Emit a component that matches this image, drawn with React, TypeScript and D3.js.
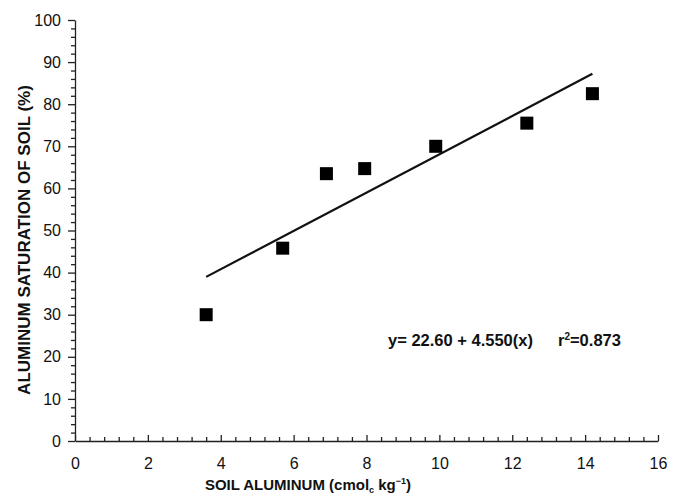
import { useEffect, useRef } from 'react';
import * as d3 from 'd3';

const soilAl = [3.6, 5.7, 6.9, 7.95, 9.9, 12.4, 14.2];
const alSaturation = [30, 45.8, 63.5, 64.7, 70, 75.5, 82.5];
const intercept = 22.6;
const slope = 4.55;
const xTicks = [0, 2, 4, 6, 8, 10, 12, 14, 16];
const yTicks = [0, 10, 20, 30, 40, 50, 60, 70, 80, 90, 100];

function App() {
  const svgRef = useRef<SVGSVGElement | null>(null);
  const width = 677;
  const height = 498;
  const margin = { top: 20, right: 19, bottom: 57, left: 75 };

  useEffect(() => {
    const svg = d3.select(svgRef.current);
    svg.selectAll('*').remove();

    const x = d3.scaleLinear().domain([0, 16]).range([margin.left, width - margin.right]);
    const y = d3.scaleLinear().domain([0, 100]).range([height - margin.bottom, margin.top]);
    const font = 'Liberation Sans, Arial, sans-serif';

    // x axis, ticks pointing up into the plot
    const xMinor = d3.range(0, 16.001, 0.4).filter((v) => Math.abs(v / 2 - Math.round(v / 2)) > 0.01);
    const gx = svg.append('g').attr('transform', `translate(0,${y(0)})`);
    gx.call(d3.axisBottom(x).tickValues(xMinor).tickSize(-4).tickFormat(() => ''));
    gx.call((g) => g.select('.domain').remove());
    const gxMaj = svg.append('g').attr('transform', `translate(0,${y(0)})`);
    gxMaj.call(d3.axisBottom(x).tickValues(xTicks).tickSize(-6).tickSizeOuter(0).tickFormat(d3.format('d')));
    gxMaj.selectAll('text').attr('y', 17).attr('font-size', 16).attr('font-family', font).attr('fill', '#111');

    // y axis, ticks pointing left
    const yMinor = d3.range(0, 100.001, 2).filter((v) => v % 10 !== 0);
    const gy = svg.append('g').attr('transform', `translate(${x(0)},0)`);
    gy.call(d3.axisLeft(y).tickValues(yMinor).tickSize(4).tickFormat(() => ''));
    gy.call((g) => g.select('.domain').remove());
    const gyMaj = svg.append('g').attr('transform', `translate(${x(0)},0)`);
    gyMaj.call(d3.axisLeft(y).tickValues(yTicks).tickSize(7).tickSizeOuter(0).tickFormat(d3.format('d')));
    gyMaj.selectAll('text').attr('x', -14).attr('font-size', 16).attr('font-family', font).attr('fill', '#111');

    svg.selectAll('.domain, .tick line').attr('stroke', '#222').attr('stroke-width', 1.3);

    // regression line
    const xr = d3.extent(soilAl) as [number, number];
    const line = d3
      .line<number>()
      .x((d) => x(d))
      .y((d) => y(intercept + slope * d));
    svg
      .append('path')
      .attr('d', line(xr))
      .attr('fill', 'none')
      .attr('stroke', '#111')
      .attr('stroke-width', 2.2);

    // points
    const s = 13;
    svg
      .append('g')
      .selectAll('rect')
      .data(soilAl)
      .join('rect')
      .attr('x', (d) => x(d) - s / 2)
      .attr('y', (_, i) => y(alSaturation[i]) - s / 2)
      .attr('width', s)
      .attr('height', s)
      .attr('fill', '#000');

    // equation
    const eq = svg
      .append('text')
      .attr('y', 346)
      .attr('font-family', font)
      .attr('font-weight', 'bold')
      .attr('font-size', 16.5)
      .attr('fill', '#111');
    eq.append('tspan').attr('x', 388).text('y= 22.60 + 4.550(x)');
    eq.append('tspan').attr('x', 558).text('r');
    eq.append('tspan').attr('font-size', 10).attr('dy', -6).text('2');
    eq.append('tspan').attr('dy', 6).text('=0.873');

    // axis titles
    const xt = svg
      .append('text')
      .attr('x', 308)
      .attr('y', 490)
      .attr('text-anchor', 'middle')
      .attr('font-family', font)
      .attr('font-weight', 'bold')
      .attr('font-size', 15)
      .attr('fill', '#111');
    xt.append('tspan').text('SOIL ALUMINUM (cmol');
    xt.append('tspan').attr('font-size', 9).attr('dy', 3).text('c');
    xt.append('tspan').attr('dy', -3).text(' kg');
    xt.append('tspan').attr('font-size', 9).attr('dy', -6).text('−1');
    xt.append('tspan').attr('dy', 6).text(')');

    svg
      .append('text')
      .attr('transform', `translate(30,240) rotate(-90)`)
      .attr('text-anchor', 'middle')
      .attr('font-family', font)
      .attr('font-weight', 'bold')
      .attr('font-size', 17)
      .attr('fill', '#111')
      .text('ALUMINUM SATURATION OF SOIL (%)');
  }, []);

  return (
    <svg
      ref={svgRef}
      width={width}
      height={height}
      style={{ position: 'absolute', left: 0, top: 0, background: '#fff' }}
    />
  );
}

export default App;
